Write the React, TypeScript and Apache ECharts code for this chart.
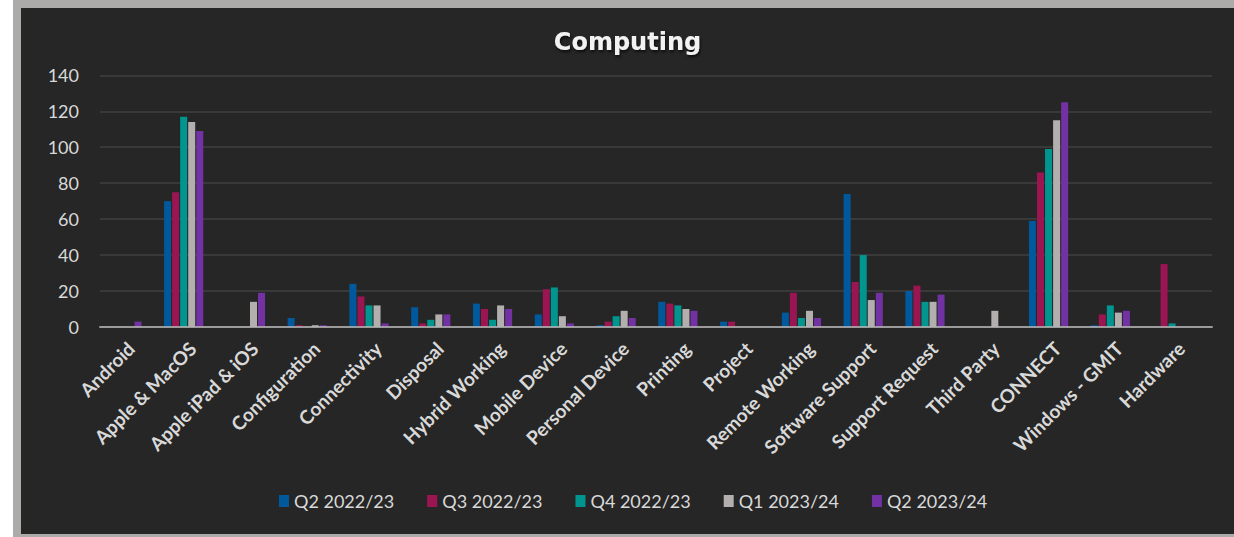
import React, { useEffect, useRef } from "react";
import * as echarts from "echarts";

const categories = [
  "Android", "Apple & MacOS", "Apple iPad & iOS", "Configuration", "Connectivity",
  "Disposal", "Hybrid Working", "Mobile Device", "Personal Device", "Printing",
  "Project", "Remote Working", "Software Support", "Support Request", "Third Party",
  "CONNECT", "Windows - GMIT", "Hardware",
];

const seriesNames = ["Q2 2022/23", "Q3 2022/23", "Q4 2022/23", "Q1 2023/24", "Q2 2023/24"];
const seriesColors = ["#00599c", "#9b1553", "#00968f", "#b3afae", "#7332a3"];

const q2_2022 = [0, 70, 0, 5, 24, 11, 13, 7, 1, 14, 3, 8, 74, 20, 0, 59, 1, 0];
const q3_2022 = [0, 75, 0, 1, 17, 2, 10, 21, 3, 13, 3, 19, 25, 23, 0, 86, 7, 35];
const q4_2022 = [0, 117, 0, 0, 12, 4, 4, 22, 6, 12, 0, 5, 40, 14, 0, 99, 12, 2];
const q1_2023 = [0, 114, 14, 1, 12, 7, 12, 6, 9, 10, 0, 9, 15, 14, 9, 115, 8, 0];
const q2_2023 = [3, 109, 19, 1, 2, 7, 10, 2, 5, 9, 0, 5, 19, 18, 0, 125, 9, 0];

const seriesValues = [q2_2022, q3_2022, q4_2022, q1_2023, q2_2023];

const yMin = 0;
const yMax = 140;
const yInterval = 20;

export default function App() {
  const ref = useRef<HTMLDivElement>(null);

  useEffect(() => {
    if (!ref.current) return;
    const chart = echarts.init(ref.current, undefined, { renderer: "svg" });
    const labelColor = "#d9d9d9";
    const font = "Lato, 'Open Sans', sans-serif";
    chart.setOption({
      animation: false,
      backgroundColor: "#262626",
      title: {
        text: "Computing",
        left: "center",
        top: 17,
        textStyle: {
          color: "#f2f2f2",
          fontFamily: "'DejaVu Sans', sans-serif",
          fontWeight: "bold",
          fontSize: 24,
          textShadowColor: "rgba(0,0,0,0.7)",
          textShadowBlur: 3,
          textShadowOffsetX: 1,
          textShadowOffsetY: 2,
        },
      },
      legend: {
        data: seriesNames,
        left: 258,
        top: 484,
        padding: 0,
        itemWidth: 10,
        itemHeight: 12,
        itemGap: 33,
        icon: "rect",
        textStyle: { color: labelColor, fontFamily: font, fontSize: 18 },
      },
      grid: [
        { left: 79, right: 22, top: 67.3, bottom: 207 },
        { left: 70, right: 31, top: 67.3, bottom: 207 },
      ],
      xAxis: [
        {
          type: "category",
          gridIndex: 0,
          data: categories,
          z: 5,
          axisLine: { show: true, lineStyle: { color: "rgba(180,180,180,0.8)", width: 2 } },
          axisTick: { show: false },
          axisLabel: {
            interval: 0,
            rotate: 45,
            margin: 18,
            color: labelColor,
            fontFamily: font,
            fontWeight: "bold",
            fontSize: 19,
          },
          splitLine: { show: false },
        },
        {
          type: "category",
          gridIndex: 1,
          data: categories,
          show: false,
        },
      ],
      yAxis: [
        {
          type: "value",
          gridIndex: 0,
          min: yMin,
          max: yMax,
          interval: yInterval,
          axisLine: { show: false },
          axisTick: { show: false },
          axisLabel: { color: labelColor, fontFamily: font, fontSize: 18, margin: 21 },
          splitLine: { lineStyle: { color: "#404040", width: 1.5 } },
        },
        {
          type: "value",
          gridIndex: 1,
          min: yMin,
          max: yMax,
          interval: yInterval,
          show: false,
          splitLine: { show: false },
        },
      ],
      series: seriesNames.map((name, i) => ({
        name,
        type: "bar",
        xAxisIndex: 1,
        yAxisIndex: 1,
        data: seriesValues[i],
        barWidth: 7,
        barGap: "15%",
        itemStyle: { color: seriesColors[i] },
      })),
    });
    return () => chart.dispose();
  }, []);

  return (
    <div style={{ position: "fixed", left: 0, top: 0, width: 1234, height: 537, background: "#ffffff" }}>
      <div style={{ position: "absolute", left: 13, top: 0, width: 1221, height: 537, background: "#adaaaa" }} />
      <div
        ref={ref}
        style={{ position: "absolute", left: 21, top: 8, width: 1213, height: 526, background: "#262626" }}
      />
    </div>
  );
}
